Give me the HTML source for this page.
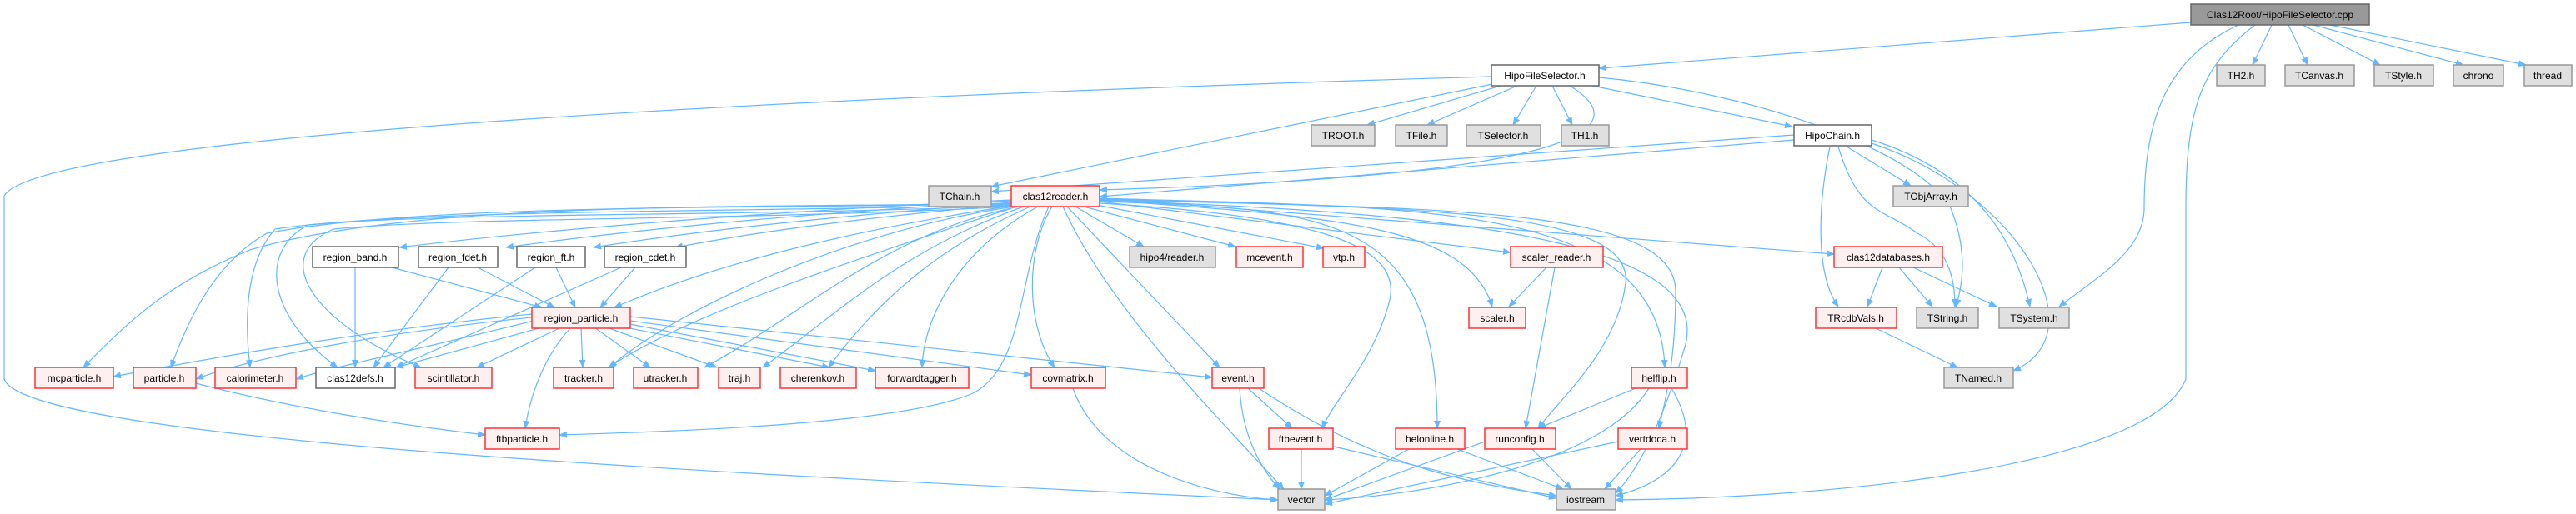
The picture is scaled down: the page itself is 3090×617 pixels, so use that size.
<!DOCTYPE html>
<html><head><meta charset="utf-8"><style>
html,body{margin:0;padding:0;background:#fff;}
svg{display:block;}
text{font-family:"Liberation Sans",sans-serif;font-size:12px;fill:#000;text-anchor:middle;}
.e{fill:none;stroke:#63b8ff;stroke-width:1.2;marker-end:url(#a);}
.r{fill:#fff0f0;stroke:#ff3333;stroke-width:1.5;}
.g{fill:#e0e0e0;stroke:#999;stroke-width:1.5;}
.w{fill:#fff;stroke:#666;stroke-width:1.5;}
.k{fill:#999;stroke:#666;stroke-width:1.5;}
</style></head><body>
<svg width="3090" height="617" viewBox="0 0 3090 617" xmlns="http://www.w3.org/2000/svg">
<defs><marker id="a" markerWidth="10" markerHeight="8" refX="9" refY="4" orient="auto" markerUnits="userSpaceOnUse"><path d="M0,0 L10,4 L0,8 z" fill="#63b8ff"/></marker></defs>
<g>
<path class="e" d="M2628,27 L1918,82"/>
<path class="e" d="M2725,30 L2702,78"/>
<path class="e" d="M2745,30 L2768,78"/>
<path class="e" d="M2762,30 L2855,78"/>
<path class="e" d="M2775,30 L2955,78"/>
<path class="e" d="M2795,30 L3030,78"/>
<path class="e" d="M2685,30 C2600,70 2572,140 2572,250 C2572,300 2520,330 2470,368"/>
<path class="e" d="M2705,30 C2640,80 2622,130 2622,250 L2622,455 C2580,560 2200,598 1938,600"/>
<path class="e" d="M1789,92 C1000,115 50,160 5,235 L5,455 C30,530 900,570 1533,600"/>
<path class="e" d="M1800,103 L1640,150"/>
<path class="e" d="M1820,103 L1712,150"/>
<path class="e" d="M1843,103 L1815,150"/>
<path class="e" d="M1862,103 L1886,150"/>
<path class="e" d="M1910,103 L2150,152"/>
<path class="e" d="M1918,93 C2100,110 2300,180 2340,250 C2360,300 2355,340 2346,368"/>
<path class="e" d="M1883,103 C1960,150 1920,210 1319,228"/>
<path class="e" d="M1795,100 L1189,224"/>
<path class="e" d="M2152,162 L1189,230"/>
<path class="e" d="M2152,168 L1319,236"/>
<path class="e" d="M2215,176 L2292,223"/>
<path class="e" d="M2195,176 C2180,250 2178,330 2205,368"/>
<path class="e" d="M2205,176 C2230,260 2260,250 2300,280 C2340,300 2345,340 2345,368"/>
<path class="e" d="M2245,168 C2380,210 2420,300 2435,368"/>
<path class="e" d="M2245,172 C2420,230 2520,400 2415,445"/>
<path class="e" d="M1290,248 L1372,296"/>
<path class="e" d="M1300,248 L1482,296"/>
<path class="e" d="M1315,246 L1588,298"/>
<path class="e" d="M1319,242 L1812,303"/>
<path class="e" d="M1319,238 L2200,305"/>
<path class="e" d="M1319,240 C1600,260 1760,270 1790,368"/>
<path class="e" d="M1319,238 C1700,250 1990,240 1997,441"/>
<path class="e" d="M1319,239 C1700,250 1960,250 1950,340 C1940,420 1870,480 1845,514"/>
<path class="e" d="M1319,240 C1750,250 2010,250 2010,350 C2010,440 1995,490 1990,514"/>
<path class="e" d="M1319,241 C1800,255 2060,300 2020,420 C1990,520 1960,570 1938,592"/>
<path class="e" d="M1319,242 C1600,250 1724,260 1724,514"/>
<path class="e" d="M1319,244 C1600,260 1680,300 1667,360 C1650,430 1600,480 1586,514"/>
<path class="e" d="M1275,248 C1330,370 1460,500 1540,587"/>
<path class="e" d="M1280,248 L1463,441"/>
<path class="e" d="M1262,248 C1230,300 1230,390 1265,441"/>
<path class="e" d="M1245,248 C1150,300 1108,380 1106,441"/>
<path class="e" d="M1236,248 C1140,290 1060,350 994,441"/>
<path class="e" d="M1228,248 C1080,300 1000,380 915,441"/>
<path class="e" d="M1222,248 C1060,280 960,380 845,441"/>
<path class="e" d="M1216,248 C1000,280 800,380 731,441"/>
<path class="e" d="M1258,248 C1220,330 1230,440 1167,472 C1080,510 800,518 671,522"/>
<path class="e" d="M1213,240 C1000,250 700,270 479,297"/>
<path class="e" d="M1213,241 C1000,255 800,270 607,297"/>
<path class="e" d="M1213,243 C1000,260 850,275 712,297"/>
<path class="e" d="M1213,245 C1000,265 900,280 810,297"/>
<path class="e" d="M1213,247 C1000,280 850,320 737,369"/>
<path class="e" d="M1213,244 C900,250 500,240 300,300 C200,340 150,390 100,441"/>
<path class="e" d="M1213,245 C900,250 500,245 320,280 C250,320 220,400 205,441"/>
<path class="e" d="M1213,246 C900,255 500,250 330,275 C290,320 295,400 300,441"/>
<path class="e" d="M1213,247 C900,260 520,255 370,270 C310,300 320,380 405,441"/>
<path class="e" d="M1213,248 C900,265 550,260 400,275 C320,310 380,390 505,441"/>
<path class="e" d="M638,377 C450,395 250,430 136,452"/>
<path class="e" d="M638,381 C450,400 300,430 235,455"/>
<path class="e" d="M640,385 C500,420 400,440 355,455"/>
<path class="e" d="M650,393 L475,441"/>
<path class="e" d="M673,393 L572,441"/>
<path class="e" d="M697,393 L699,441"/>
<path class="e" d="M713,393 L780,441"/>
<path class="e" d="M728,393 L860,441"/>
<path class="e" d="M740,391 L995,441"/>
<path class="e" d="M750,388 L1050,445"/>
<path class="e" d="M756,385 L1237,450"/>
<path class="e" d="M756,380 L1454,453"/>
<path class="e" d="M685,393 C650,430 635,480 630,514"/>
<path class="e" d="M426,321 L426,441"/>
<path class="e" d="M470,321 L650,369"/>
<path class="e" d="M538,321 L448,441"/>
<path class="e" d="M573,321 L665,369"/>
<path class="e" d="M642,321 L460,441"/>
<path class="e" d="M667,321 L690,369"/>
<path class="e" d="M745,321 L475,441"/>
<path class="e" d="M762,321 L720,369"/>
<path class="e" d="M1213,250 C1000,320 820,380 730,441"/>
<path class="e" d="M235,460 C350,490 480,510 582,522"/>
<path class="e" d="M1497,466 L1550,514"/>
<path class="e" d="M1487,466 C1490,520 1510,560 1535,587"/>
<path class="e" d="M1510,466 C1650,560 1760,580 1867,595"/>
<path class="e" d="M1561,539 L1561,587"/>
<path class="e" d="M1600,536 L1867,598"/>
<path class="e" d="M1287,466 C1320,560 1450,595 1533,600"/>
<path class="e" d="M1855,321 L1810,368"/>
<path class="e" d="M1865,321 L1830,514"/>
<path class="e" d="M2258,321 L2240,368"/>
<path class="e" d="M2278,321 L2318,368"/>
<path class="e" d="M2295,321 L2395,368"/>
<path class="e" d="M2250,394 L2348,441"/>
<path class="e" d="M1962,466 L1845,514"/>
<path class="e" d="M1978,466 C1920,560 1700,595 1589,600"/>
<path class="e" d="M2005,466 C2050,540 2000,580 1938,595"/>
<path class="e" d="M1690,539 L1589,595"/>
<path class="e" d="M1748,539 L1875,587"/>
<path class="e" d="M1781,530 L1589,600"/>
<path class="e" d="M1838,539 L1885,587"/>
<path class="e" d="M1941,530 L1589,605"/>
<path class="e" d="M1968,539 L1925,587"/>
</g>
<g>
<rect class="k" x="2628" y="5" width="214" height="25"/><text x="2735" y="22">Clas12Root/HipoFileSelector.cpp</text>
<rect class="w" x="1789" y="78" width="129" height="25"/><text x="1853" y="95">HipoFileSelector.h</text>
<rect class="g" x="2659" y="78" width="58" height="25"/><text x="2688" y="95">TH2.h</text>
<rect class="g" x="2741" y="78" width="83" height="25"/><text x="2782" y="95">TCanvas.h</text>
<rect class="g" x="2848" y="78" width="71" height="25"/><text x="2883" y="95">TStyle.h</text>
<rect class="g" x="2943" y="78" width="60" height="25"/><text x="2973" y="95">chrono</text>
<rect class="g" x="3028" y="78" width="57" height="25"/><text x="3056" y="95">thread</text>
<rect class="g" x="1573" y="150" width="76" height="25"/><text x="1611" y="167">TROOT.h</text>
<rect class="g" x="1674" y="150" width="62" height="25"/><text x="1705" y="167">TFile.h</text>
<rect class="g" x="1759" y="150" width="89" height="25"/><text x="1803" y="167">TSelector.h</text>
<rect class="g" x="1873" y="150" width="57" height="25"/><text x="1901" y="167">TH1.h</text>
<rect class="w" x="2152" y="150" width="93" height="25"/><text x="2198" y="167">HipoChain.h</text>
<rect class="g" x="1114" y="223" width="75" height="25"/><text x="1151" y="240">TChain.h</text>
<rect class="r" x="1213" y="223" width="106" height="25"/><text x="1266" y="240">clas12reader.h</text>
<rect class="g" x="2271" y="223" width="90" height="25"/><text x="2316" y="240">TObjArray.h</text>
<rect class="w" x="375" y="296" width="103" height="25"/><text x="426" y="313">region_band.h</text>
<rect class="w" x="502" y="296" width="95" height="25"/><text x="549" y="313">region_fdet.h</text>
<rect class="w" x="620" y="296" width="82" height="25"/><text x="661" y="313">region_ft.h</text>
<rect class="w" x="725" y="296" width="98" height="25"/><text x="774" y="313">region_cdet.h</text>
<rect class="g" x="1355" y="296" width="103" height="25"/><text x="1406" y="313">hipo4/reader.h</text>
<rect class="r" x="1483" y="296" width="80" height="25"/><text x="1523" y="313">mcevent.h</text>
<rect class="r" x="1587" y="296" width="50" height="25"/><text x="1612" y="313">vtp.h</text>
<rect class="r" x="1812" y="296" width="111" height="25"/><text x="1867" y="313">scaler_reader.h</text>
<rect class="r" x="2200" y="296" width="130" height="25"/><text x="2265" y="313">clas12databases.h</text>
<rect class="r" x="638" y="369" width="118" height="25"/><text x="697" y="386">region_particle.h</text>
<rect class="r" x="1762" y="369" width="68" height="25"/><text x="1796" y="386">scaler.h</text>
<rect class="r" x="2178" y="369" width="97" height="25"/><text x="2226" y="386">TRcdbVals.h</text>
<rect class="g" x="2299" y="369" width="74" height="25"/><text x="2336" y="386">TString.h</text>
<rect class="g" x="2398" y="369" width="84" height="25"/><text x="2440" y="386">TSystem.h</text>
<rect class="r" x="42" y="441" width="94" height="25"/><text x="89" y="458">mcparticle.h</text>
<rect class="r" x="160" y="441" width="75" height="25"/><text x="197" y="458">particle.h</text>
<rect class="r" x="258" y="441" width="97" height="25"/><text x="306" y="458">calorimeter.h</text>
<rect class="w" x="379" y="441" width="95" height="25"/><text x="426" y="458">clas12defs.h</text>
<rect class="r" x="498" y="441" width="92" height="25"/><text x="544" y="458">scintillator.h</text>
<rect class="r" x="664" y="441" width="72" height="25"/><text x="700" y="458">tracker.h</text>
<rect class="r" x="760" y="441" width="77" height="25"/><text x="798" y="458">utracker.h</text>
<rect class="r" x="862" y="441" width="50" height="25"/><text x="887" y="458">traj.h</text>
<rect class="r" x="936" y="441" width="91" height="25"/><text x="981" y="458">cherenkov.h</text>
<rect class="r" x="1050" y="441" width="112" height="25"/><text x="1106" y="458">forwardtagger.h</text>
<rect class="r" x="1237" y="441" width="89" height="25"/><text x="1281" y="458">covmatrix.h</text>
<rect class="r" x="1454" y="441" width="62" height="25"/><text x="1485" y="458">event.h</text>
<rect class="r" x="1957" y="441" width="67" height="25"/><text x="1990" y="458">helflip.h</text>
<rect class="g" x="2332" y="441" width="83" height="25"/><text x="2373" y="458">TNamed.h</text>
<rect class="r" x="582" y="514" width="89" height="25"/><text x="626" y="531">ftbparticle.h</text>
<rect class="r" x="1522" y="514" width="77" height="25"/><text x="1560" y="531">ftbevent.h</text>
<rect class="r" x="1674" y="514" width="83" height="25"/><text x="1715" y="531">helonline.h</text>
<rect class="r" x="1781" y="514" width="85" height="25"/><text x="1823" y="531">runconfig.h</text>
<rect class="r" x="1941" y="514" width="83" height="25"/><text x="1982" y="531">vertdoca.h</text>
<rect class="g" x="1533" y="587" width="56" height="25"/><text x="1561" y="604">vector</text>
<rect class="g" x="1867" y="587" width="71" height="25"/><text x="1902" y="604">iostream</text>
</g>
</svg>
</body></html>
